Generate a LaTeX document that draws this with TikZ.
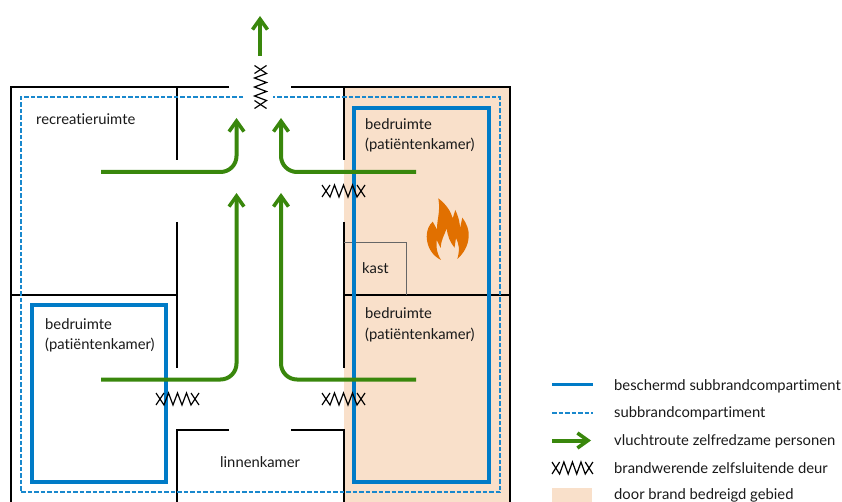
\documentclass[tikz,border=0pt]{standalone}
\usepackage{fontspec}
\setmainfont[Ligatures=NoCommon]{Lato}
\usetikzlibrary{arrows.meta}
\definecolor{blue_line}{HTML}{007BC7}
\definecolor{green_route}{HTML}{39870C}
\definecolor{orange_area}{HTML}{F9E0CA}
\definecolor{orange_fire}{HTML}{E17000}
\tikzset{
	label_text/.style = {
		align=left,
		inner sep=0pt,
		anchor=west,
		text=black!90,
		font=\fontsize{14.8}{20.5}\selectfont
	},
	wall/.style = {
		black,
		line width=1.3pt
	},
	wall_kast/.style = {
		black!60,
		line width=1pt
	},
	comp_solid/.style = {
		blue_line,
		line width=3.2pt
	},
	comp_dashed/.style = {
		blue_line!90,
		line width=2pt,
		dash pattern=on 4.5pt off 2pt
	},
	route/.style = {
		green_route,
		line width=4pt,
		rounded corners=16pt,
		-{Straight Barb[length=10.5pt,width=15pt,line width=3.6pt]}
	},
	door/.style = {
		black,
		line width=1.2pt,
		line join=miter
	},
}
\newcommand{\doorh}[2]{
	\draw [door, shift={(#1,#2)}] (0,-6) -- (8,6) -- (12.5,-6) -- (17,6) -- (21.5,-6) -- (26,6) -- (30.5,-6) -- (35,6) -- (43,-6);
	\draw [door, shift={(#1,#2)}] (0,6) -- (8,-6);
	\draw [door, shift={(#1,#2)}] (43,6) -- (35,-6);
}
\newcommand{\doorv}[2]{
	\draw [door, shift={(#1,#2)}] (-6,0) -- (6,8) -- (-6,12.5) -- (6,17) -- (-6,21.5) -- (6,26) -- (-6,30.5) -- (6,35) -- (-6,43);
	\draw [door, shift={(#1,#2)}] (6,0) -- (-6,8);
	\draw [door, shift={(#1,#2)}] (6,43) -- (-6,35);
}
\begin{document}
\begin{tikzpicture}[x=1pt,y=-1pt]
\useasboundingbox (0,0) rectangle (842,502);
\fill [orange_area] (343.5,87) rectangle (510,502);
\draw [wall] (229,87) -- (11,87) -- (11,502);
\draw [wall] (291,87) -- (510,87) -- (510,502);
\draw [wall] (177,87) -- (177,160);
\draw [wall] (344,87) -- (344,160);
\draw [wall] (177,222) -- (177,368);
\draw [wall] (344,222) -- (344,368);
\draw [wall] (11,295) -- (177,295);
\draw [wall] (344,295) -- (510,295);
\draw [wall] (229,430) -- (177,430) -- (177,502);
\draw [wall] (291,430) -- (344,430) -- (344,502);
\draw [wall_kast] (344,243) -- (406,243) -- (406,295);
\draw [comp_dashed] (243,97.5) -- (20.5,97.5) -- (20.5,492) -- (500,492) -- (500,97.5) -- (273,97.5);
\draw [comp_solid] (354,108) rectangle (489,482);
\draw [comp_solid] (32,305) rectangle (166,482);
\draw [route] (260,56) -- (260,16);
\draw [route] (101,172) -- (236.5,172) -- (236.5,118);
\draw [route] (416,172) -- (281,172) -- (281,118);
\draw [route] (101,379.5) -- (236.5,379.5) -- (236.5,193);
\draw [route] (416,379.5) -- (281,379.5) -- (281,193);
\doorv{260.5}{65.5}
\doorh{322}{191}
\doorh{156}{399}
\doorh{322}{399}
\fill [orange_fire] (438.3,198.3) .. controls (447,205) and (451,212) .. (452.7,218.3) -- (455.3,210) .. controls (459,218) and (460,224) .. (460,228.3) -- (462.3,217.7) .. controls (467,224) and (469,230) .. (468.7,236) .. controls (468.5,246) and (463,254) .. (457.3,259) .. controls (460,250) and (459,244) .. (456,238) -- (454.5,247.7) .. controls (450,242) and (447.5,236) .. (446.7,228.3) .. controls (444,236) and (441,240) .. (440.7,248) -- (436.7,240) -- (436.7,248) .. controls (437,252) and (439,257) .. (441,260) .. controls (433,256) and (427,248) .. (426.7,236.7) .. controls (426.7,230) and (429,225) .. (432.7,221.7) -- (437.3,230) .. controls (436,222) and (441,212) .. (438.3,198.3) -- cycle;
\node [label_text] (recreatie) at (36,119) {recreatieruimte};
\node [label_text] (kamer_a) at (365,135.5) {bedruimte\\(patiëntenkamer)};
\node [label_text] (kamer_b) at (365,325) {bedruimte\\(patiëntenkamer)};
\node [label_text] (kamer_c) at (45,335.5) {bedruimte\\(patiëntenkamer)};
\node [label_text] (kast) at (362,268) {kast};
\node [label_text] (linnen) at (220,462) {linnenkamer};
\draw [comp_solid] (552,384.5) -- (593,384.5);
\draw [comp_dashed] (552,412.5) -- (593,412.5);
\draw [route] (552,440.5) -- (591,440.5);
\begin{scope}[shift={(552,468)},xscale=0.95]
\doorh{0}{0}
\end{scope}
\fill [orange_area] (552,488) rectangle (592,502);
\node [label_text] (leg_a) at (614,386) {beschermd subbrandcompartiment};
\node [label_text] (leg_b) at (614,413.5) {subbrandcompartiment};
\node [label_text] (leg_c) at (614,441) {vluchtroute zelfredzame personen};
\node [label_text] (leg_d) at (614,468) {brandwerende zelfsluitende deur};
\node [label_text] (leg_e) at (614,495) {door brand bedreigd gebied};
\end{tikzpicture}
\end{document}
